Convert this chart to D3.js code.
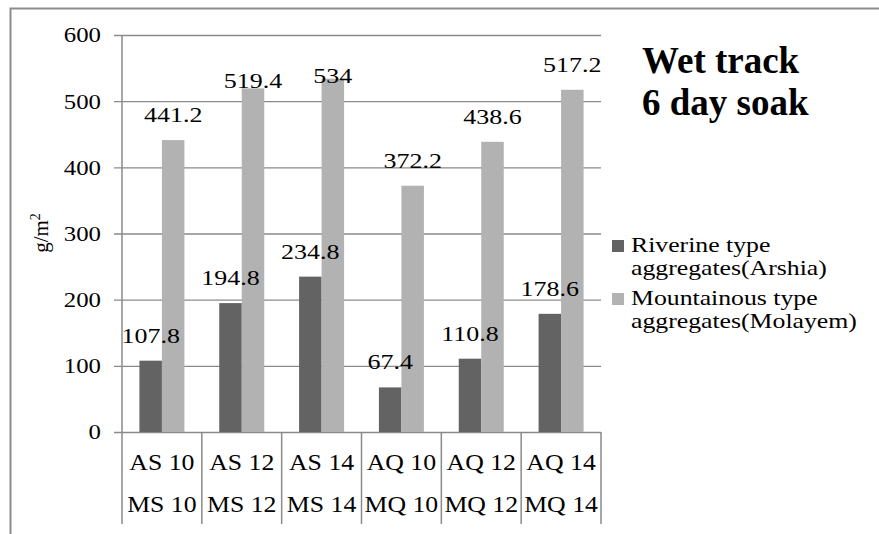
<!DOCTYPE html>
<html>
<head>
<meta charset="utf-8">
<script src="https://cdn.jsdelivr.net/npm/d3@7/dist/d3.min.js"></script>
<style>
  html, body { margin: 0; padding: 0; background: #ffffff; }
  svg { display: block; }
  text { font-family: "Liberation Serif", "Times New Roman", serif; fill: #000; }
</style>
</head>
<body>
<svg id="chart" width="879" height="534"></svg>
<script>
// Wet track abrasion loss after a 6 day soak (g/m²)
const categoriesTop = ["AS 10", "AS 12", "AS 14", "AQ 10", "AQ 12", "AQ 14"];
const categoriesBottom = ["MS 10", "MS 12", "MS 14", "MQ 10", "MQ 12", "MQ 14"];
const seriesNames = ["Riverine type aggregates(Arshia)", "Mountainous type aggregates(Molayem)"];
const riverineValues = [107.8, 194.8, 234.8, 67.4, 110.8, 178.6];
const mountainousValues = [441.2, 519.4, 534, 372.2, 438.6, 517.2];
const yTicks = [0, 100, 200, 300, 400, 500, 600];

// layout
const W = 879, H = 534;
const plot = { left: 122, right: 601, top: 35, bottom: 432 };
const colors = ["#636363", "#b2b2b2"];
const gridColor = "#8a8a8a";
const labelGap = 18;
// extra lift for the two tallest value labels so they stay clear of each other
const labelNudge = [[0, 0, 0, 0, 0, 0], [0, 18, 22.5, 0, 0, 0]];

const svg = d3.select("#chart");

// widen glyphs horizontally (the chart's text is set slightly expanded)
function expand(sel, factor) {
  sel.each(function () {
    const len = this.getComputedTextLength();
    d3.select(this).attr("textLength", len * factor).attr("lengthAdjust", "spacingAndGlyphs");
  });
  return sel;
}

// outer frame (top and left edges)
svg.append("path")
  .attr("d", `M10.5,${H} L10.5,8.5 L${W},8.5`)
  .attr("fill", "none").attr("stroke", "#8c8c8c").attr("stroke-width", 2);

const y = d3.scaleLinear().domain([0, 600]).range([plot.bottom, plot.top]);
const x0 = d3.scaleBand().domain(d3.range(categoriesTop.length)).range([plot.left, plot.right]).padding(0);
const x1 = d3.scaleBand().domain([0, 1]).range([0, x0.bandwidth()]).paddingInner(0).paddingOuter(0.774);

// gridlines with ticks extending left of the axis
const yAxis = d3.axisLeft(y).tickValues(yTicks).tickSize(plot.right - plot.left + 8).tickPadding(0);
const gAxis = svg.append("g").attr("transform", `translate(${plot.right},0)`).call(yAxis);
gAxis.select(".domain").remove();
gAxis.selectAll(".tick line").attr("stroke", gridColor).attr("stroke-width", 1.3);
gAxis.selectAll(".tick text").remove();

// y tick labels, right-aligned to the left of the tick marks
const tickLabels = svg.append("g").selectAll("text").data(yTicks).join("text")
  .attr("x", 101).attr("y", d => y(d)).attr("dy", "0.35em")
  .attr("font-size", 21)
  .text(d => d);
expand(tickLabels, 1.18).attr("text-anchor", "end");

// vertical axis line
svg.append("line")
  .attr("x1", plot.left).attr("x2", plot.left)
  .attr("y1", plot.top).attr("y2", plot.bottom)
  .attr("stroke", gridColor).attr("stroke-width", 1.5);

// category separators below the plot
const sepX = d3.range(categoriesTop.length + 1).map(i => i < categoriesTop.length ? x0(i) : x0(i - 1) + x0.bandwidth());
svg.append("g").selectAll("line").data(sepX).join("line")
  .attr("x1", d => d).attr("x2", d => d)
  .attr("y1", plot.bottom).attr("y2", 524)
  .attr("stroke", gridColor).attr("stroke-width", 1.5);

// bars
const seriesValues = [riverineValues, mountainousValues];
const bars = svg.append("g");
seriesValues.forEach((vals, s) => {
  bars.selectAll(`.bar-${s}`).data(vals).join("rect")
    .attr("class", `bar-${s}`)
    .attr("x", (d, i) => x0(i) + x1(s))
    .attr("width", x1.bandwidth())
    .attr("y", d => y(d))
    .attr("height", d => y(0) - y(d))
    .attr("fill", colors[s]);
});

// value labels
seriesValues.forEach((vals, s) => {
  const lbl = svg.append("g").selectAll("text").data(vals).join("text")
    .attr("x", (d, i) => x0(i) + x1(s) + x1.bandwidth() / 2)
    .attr("y", (d, i) => y(d) - labelGap + labelNudge[s][i])
    .attr("text-anchor", "middle")
    .attr("font-size", 22)
    .text(d => d);
  expand(lbl, 1.18);
});

// two-level category labels
const cat = svg.append("g");
const c1 = cat.selectAll(".c1").data(categoriesTop).join("text")
  .attr("class", "c1")
  .attr("x", (d, i) => x0(i) + x0.bandwidth() / 2)
  .attr("y", 470)
  .attr("text-anchor", "middle").attr("font-size", 23)
  .text(d => d);
const c2 = cat.selectAll(".c2").data(categoriesBottom).join("text")
  .attr("class", "c2")
  .attr("x", (d, i) => x0(i) + x0.bandwidth() / 2)
  .attr("y", 512)
  .attr("text-anchor", "middle").attr("font-size", 23)
  .text(d => d);
expand(c1, 1.12);
expand(c2, 1.12);

// y axis title
const yt = svg.append("text")
  .attr("transform", "translate(48,233) rotate(-90)")
  .attr("text-anchor", "middle").attr("font-size", 21);
yt.append("tspan").text("g/m");
yt.append("tspan").attr("dy", -8).attr("font-size", 14).text("2");

// chart title
const titleLines = ["Wet track", "6 day soak"];
svg.append("g").selectAll("text").data(titleLines).join("text")
  .attr("x", 642).attr("y", (d, i) => 73 + i * 42)
  .attr("font-weight", "bold").attr("font-size", 37)
  .text(d => d);

// legend
const legendRows = [
  ["Riverine type", "aggregates(Arshia)"],
  ["Mountainous type", "aggregates(Molayem)"]
];
const legendTop = [252, 305];
const legend = svg.append("g");
legendRows.forEach((lines, s) => {
  legend.append("rect")
    .attr("x", 612).attr("y", legendTop[s] - 12)
    .attr("width", 12).attr("height", 12)
    .attr("fill", colors[s]);
  const t = legend.selectAll(`.lg-${s}`).data(lines).join("text")
    .attr("class", `lg-${s}`)
    .attr("x", 631).attr("y", (d, k) => legendTop[s] + k * 23)
    .attr("font-size", 22)
    .text(d => d);
  expand(t, 1.17);
});
</script>
</body>
</html>
